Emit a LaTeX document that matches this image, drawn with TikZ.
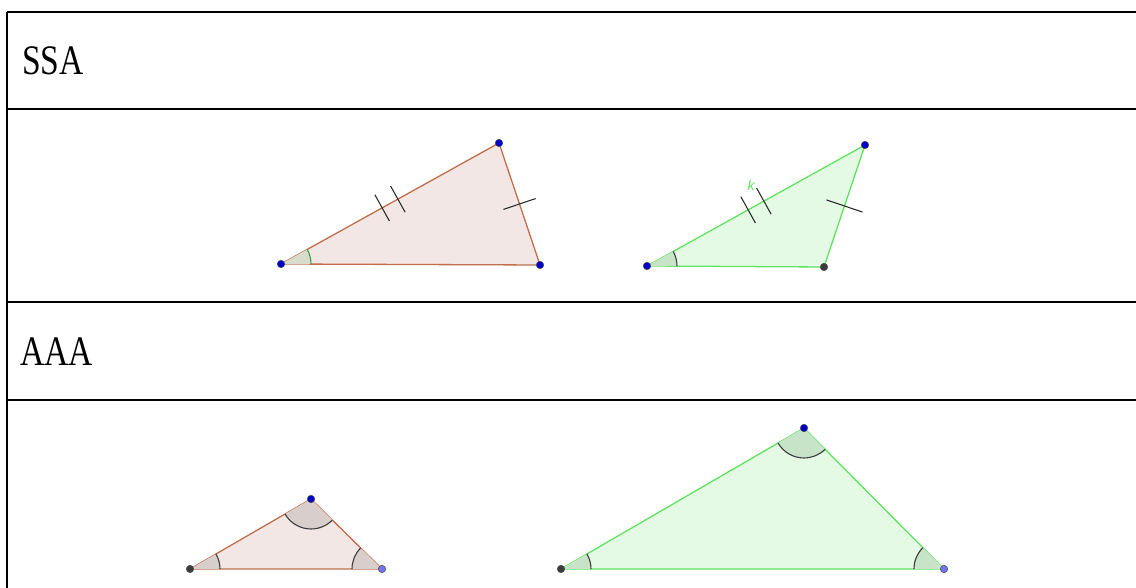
\documentclass[tikz,border=0pt]{standalone}
\usepackage{fontspec}
\newfontfamily\tabfont[FakeStretch=0.8]{Liberation Serif}
\newfontfamily\lblfont{Liberation Sans}
\usetikzlibrary{calc,angles}
\definecolor{brownedge}{RGB}{192,110,75}
\definecolor{brownfill}{RGB}{243,231,229}
\definecolor{brownang}{RGB}{216,206,203}
\definecolor{greenedge}{RGB}{95,228,95}
\definecolor{greenfill}{RGB}{228,250,228}
\definecolor{greenang}{RGB}{200,228,200}
\definecolor{ssaang}{RGB}{216,220,204}
\definecolor{ssaarc}{RGB}{60,160,60}
\definecolor{ptblue}{RGB}{0,0,205}
\definecolor{ptgray}{RGB}{60,60,60}
\definecolor{ptlight}{RGB}{115,115,235}
\definecolor{tickcol}{RGB}{45,45,45}
\tikzset{
  tableline/.style={line width=2.5pt,black},
  browntri/.style={draw=brownedge,fill=brownfill,line width=1.3pt,line join=round},
  greentri/.style={draw=greenedge,fill=greenfill,line width=1.3pt,line join=round},
  angfill/.style={draw=none,fill=#1,angle radius=30pt},
  angarc/.style={draw=#1,line width=1.1pt,angle radius=30pt},
  tick/.style={draw=tickcol,line width=1.1pt},
  dot/.style={circle,inner sep=0pt,minimum size=7.5pt,fill=#1,draw=black!70,line width=0.5pt},
  rowlabel/.style={anchor=base west,inner sep=0pt,font=\tabfont\fontsize{42}{42}\selectfont}
}
\begin{document}
\begin{tikzpicture}[x=1pt,y=1pt]
\useasboundingbox (0,0) rectangle (1136,588);
% table
\coordinate (tl) at (7,576);
\coordinate (bl) at (7,0);
\coordinate (r1) at (1136,576);
\coordinate (l2) at (7,479);
\coordinate (r2) at (1136,479);
\coordinate (l3) at (7,286);
\coordinate (r3) at (1136,286);
\coordinate (l4) at (7,188);
\coordinate (r4) at (1136,188);
\draw[tableline] (tl) -- (r1);
\draw[tableline] (l2) -- (r2);
\draw[tableline] (l3) -- (r3);
\draw[tableline] (l4) -- (r4);
\draw[tableline] (tl) -- (bl);
\node[rowlabel] (ssa) at (22,513) {SSA};
\node[rowlabel] (aaa) at (20,222) {AAA};

% SSA left triangle
\coordinate (A) at (281,324);
\coordinate (B) at (499,445);
\coordinate (C) at (540,323);
\draw[browntri] (A) -- (B) -- (C) -- cycle;
\pic[angfill=ssaang] {angle=C--A--B};
\pic[angarc=ssaarc] {angle=C--A--B};
\coordinate (MAB) at ($(A)!0.5!(B)$);
\coordinate (MBC) at ($(B)!0.5!(C)$);
\draw[tick] ($(MAB)!9pt!(B)!15pt!90:(B)$) -- ($(MAB)!9pt!(B)!15pt!-90:(B)$);
\draw[tick] ($(MAB)!-9pt!(B)!15pt!90:(B)$) -- ($(MAB)!-9pt!(B)!15pt!-90:(B)$);
\draw[tick] ($(MBC)!17pt!90:(C)$) -- ($(MBC)!17pt!-90:(C)$);
\node[dot=ptblue] (a) at (A) {};
\node[dot=ptblue] (b) at (B) {};
\node[dot=ptblue] (c) at (C) {};

% SSA right triangle
\coordinate (D) at (647,322);
\coordinate (E) at (865,443);
\coordinate (F) at (824,321);
\draw[greentri] (D) -- (E) -- (F) -- cycle;
\pic[angfill=greenang] {angle=F--D--E};
\pic[angarc=ptgray] {angle=F--D--E};
\coordinate (MDE) at ($(D)!0.5!(E)$);
\coordinate (MEF) at ($(E)!0.5!(F)$);
\draw[tick] ($(MDE)!9pt!(E)!15pt!90:(E)$) -- ($(MDE)!9pt!(E)!15pt!-90:(E)$);
\draw[tick] ($(MDE)!-9pt!(E)!15pt!90:(E)$) -- ($(MDE)!-9pt!(E)!15pt!-90:(E)$);
\draw[tick] ($(MEF)!19pt!90:(F)$) -- ($(MEF)!19pt!-90:(F)$);
\node[text=greenedge,font=\lblfont\itshape\fontsize{14}{14}\selectfont,inner sep=0pt] (k) at (751,403) {k};
\node[dot=ptblue] (d) at (D) {};
\node[dot=ptblue] (e) at (E) {};
\node[dot=ptgray] (f) at (F) {};

% AAA left triangle
\coordinate (P) at (190,19);
\coordinate (Q) at (311,89);
\coordinate (R) at (382,19);
\draw[browntri] (P) -- (Q) -- (R) -- cycle;
\pic[angfill=brownang] {angle=R--P--Q};
\pic[angarc=ptgray] {angle=R--P--Q};
\pic[angfill=brownang] {angle=P--Q--R};
\pic[angarc=ptgray] {angle=P--Q--R};
\pic[angfill=brownang] {angle=Q--R--P};
\pic[angarc=ptgray] {angle=Q--R--P};
\node[dot=ptgray] (p) at (P) {};
\node[dot=ptblue] (q) at (Q) {};
\node[dot=ptlight] (r) at (R) {};

% AAA right triangle
\coordinate (U) at (561,19);
\coordinate (V) at (804,160);
\coordinate (W) at (944,19);
\draw[greentri] (U) -- (V) -- (W) -- cycle;
\pic[angfill=greenang] {angle=W--U--V};
\pic[angarc=ptgray] {angle=W--U--V};
\pic[angfill=greenang] {angle=U--V--W};
\pic[angarc=ptgray] {angle=U--V--W};
\pic[angfill=greenang] {angle=V--W--U};
\pic[angarc=ptgray] {angle=V--W--U};
\node[dot=ptgray] (u) at (U) {};
\node[dot=ptblue] (v) at (V) {};
\node[dot=ptlight] (w) at (W) {};
\end{tikzpicture}
\end{document}
